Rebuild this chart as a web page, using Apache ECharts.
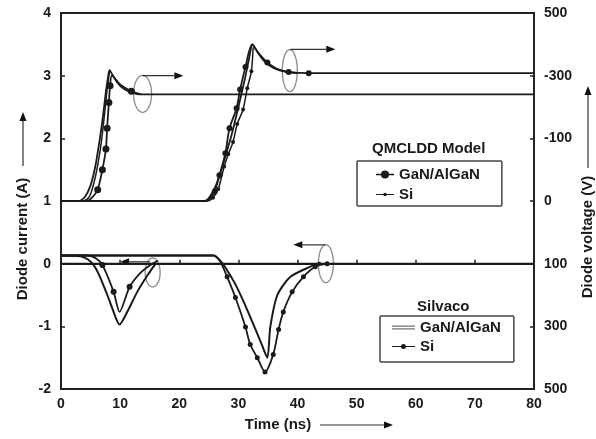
<!DOCTYPE html>
<html>
<head>
<meta charset="UTF-8">
<script src="https://cdn.jsdelivr.net/npm/echarts@6/dist/echarts.min.js"></script>
<style>
    html, body { margin: 0; padding: 0; background: #fff; }
    #main { width: 596px; height: 439px; }
</style>
</head>
<body>
<div id="main"></div>
<script type="text/javascript">
    // right axis (voltage) tick labels, from -2 to 4 on the current scale
    var voltLabels = ['500', '300', '100', '0', '-100', '-300', '500'];

    // QMCLDD model, upper pulses
    var qGanUp1T = [0, 4.4, 5.2, 6.2, 7.0, 7.6, 7.8, 8.1, 8.3, 8.6, 10.0, 11.9, 13.5];
    var qGanUp1V = [1, 1, 1.05, 1.18, 1.5, 1.83, 2.16, 2.57, 2.84, 3.0, 2.86, 2.75, 2.7];
    var qSiUp1T = [0, 3.8, 4.8, 5.6, 6.3, 6.9, 7.4, 7.8, 8.2];
    var qSiUp1V = [1, 1, 1.07, 1.3, 1.62, 2.0, 2.42, 2.78, 3.06];
    var qGanUp2T = [0, 24.4, 25.2, 26.0, 26.8, 27.8, 28.5, 29.7, 30.3, 31.2, 32.3, 33.4, 34.9, 36.5, 38.5, 41.9, 80];
    var qGanUp2V = [1, 1, 1.04, 1.15, 1.41, 1.76, 2.16, 2.48, 2.78, 3.14, 3.5, 3.36, 3.21, 3.11, 3.06, 3.04, 3.04];
    var qSiUp2T = [0, 24.8, 25.7, 26.6, 27.6, 28.3, 29.1, 29.8, 30.8, 31.5, 32.2, 32.5];
    var qSiUp2V = [1, 1, 1.05, 1.19, 1.55, 1.75, 1.94, 2.23, 2.46, 2.8, 3.07, 3.45];

    // Silvaco, upper pulses
    var sGanUp1T = [0, 3.0, 4.0, 5.0, 5.8, 6.5, 7.1, 7.6, 8.0, 8.2, 8.8, 9.6, 10.6, 12.0, 13.5, 80];
    var sGanUp1V = [1, 1, 1.06, 1.25, 1.55, 1.95, 2.35, 2.75, 3.0, 3.09, 3.0, 2.88, 2.79, 2.73, 2.7, 2.7];
    var sGanUp2T = [0, 24.3, 25.2, 26.2, 27.2, 28.0, 28.7, 29.5, 30.3, 31.1, 31.8, 32.4, 33.2, 34.5, 36.0, 38.0, 40.0];
    var sGanUp2V = [1, 1, 1.07, 1.25, 1.52, 1.78, 2.0, 2.3, 2.62, 2.95, 3.27, 3.5, 3.38, 3.22, 3.12, 3.06, 3.04];

    // Silvaco, lower (current) dips
    var sGanDn1T = [0, 3.3, 4.5, 5.5, 6.4, 7.2, 8.0, 8.7, 9.9, 11.2, 12.9, 14.6, 16.0];
    var sGanDn1V = [0.13, 0.12, 0.07, -0.02, -0.17, -0.35, -0.54, -0.72, -0.97, -0.77, -0.45, -0.19, 0.0];
    var sSiDn1T = [0, 4.5, 6.0, 7.0, 8.9, 9.9, 11.6, 13.4, 15.0, 16.4];
    var sSiDn1V = [0.13, 0.13, 0.08, -0.02, -0.45, -0.77, -0.37, -0.15, -0.03, 0.05];
    var sSiDn2T = [0, 25.8, 26.9, 28.1, 29.5, 31.2, 32.0, 33.2, 34.5, 35.9, 36.8, 37.6, 39.1, 41.0, 43.0, 45.0];
    var sSiDn2V = [0.13, 0.13, 0.04, -0.21, -0.54, -1.01, -1.29, -1.5, -1.73, -1.45, -1.05, -0.77, -0.45, -0.21, -0.05, 0.0];
    var sGanDn2T = [0, 25.8, 26.8, 27.8, 29.5, 30.9, 32.9, 34.0, 34.9, 35.4, 36.6, 38.8, 42.1, 43.9];
    var sGanDn2V = [0.13, 0.13, 0.06, -0.06, -0.33, -0.61, -1.05, -1.3, -1.5, -1.01, -0.5, -0.21, -0.05, 0.02];

    // zero reference line
    var zeroT = [0, 80];
    var zeroV = [0, 0];

    var ink = '#1a1a1a';
    var font = 'Liberation Sans, Arial, sans-serif';

    function pairs(t, v) {
        var d = [];
        for (var i = 0; i < t.length; i++) d.push([t[i], v[i]]);
        return d;
    }

    function trace(name, t, v, dots, size, width) {
        return {
            name: name,
            type: 'line',
            data: pairs(t, v),
            smooth: 0.25,
            symbol: 'circle',
            showSymbol: true,
            symbolSize: function (val, p) {
                return dots.indexOf(p.dataIndex) >= 0 ? size : 0;
            },
            itemStyle: {color: ink},
            lineStyle: {color: ink, width: width},
            emphasis: {disabled: true},
            silent: true
        };
    }

    function range(a, b) {
        var r = [];
        for (var i = a; i <= b; i++) r.push(i);
        return r;
    }

    var myChart = echarts.init(document.getElementById('main'));

    var option = {
        animation: false,
        backgroundColor: '#fff',
        textStyle: {fontFamily: font},
        grid: {left: 61, right: 62, top: 13, bottom: 50, containLabel: false, outerBoundsMode: 'none',
            show: true, borderColor: '#222', borderWidth: 2},
        title: [
            {text: 'QMCLDD Model', left: 367, top: 136,
                textStyle: {fontSize: 15, fontWeight: 'bold', color: ink, fontFamily: font}},
            {text: 'Silvaco', left: 412, top: 294,
                textStyle: {fontSize: 15, fontWeight: 'bold', color: ink, fontFamily: font}}
        ],
        legend: [
            {
                left: 357, top: 161, orient: 'vertical', selectedMode: false,
                itemWidth: 18, itemHeight: 8, itemGap: 5,
                padding: [6, 22, 4, 19],
                borderColor: '#444', borderWidth: 1.5, borderRadius: 1,
                textStyle: {fontSize: 15, fontWeight: 'bold', color: ink, fontFamily: font},
                formatter: function (n) { return n.split('|')[1]; },
                data: [
                    {name: 'Q|GaN/AlGaN', icon: 'path://M0 3.2h18v1.6H0z M5 4a4 4 0 1 1 8 0a4 4 0 1 1 -8 0z'},
                    {name: 'Q|Si', icon: 'path://M0 1.4h18v1.2H0z M7.2 2a1.8 1.8 0 1 1 3.6 0a1.8 1.8 0 1 1 -3.6 0z'}
                ]
            },
            {
                left: 380, top: 316, orient: 'vertical', selectedMode: false,
                itemWidth: 23, itemHeight: 8, itemGap: 4,
                padding: [4, 13, 8, 12],
                borderColor: '#444', borderWidth: 1.5, borderRadius: 1,
                textStyle: {fontSize: 15, fontWeight: 'bold', color: ink, fontFamily: font},
                formatter: function (n) { return n.split('|')[1]; },
                data: [
                    {name: 'S|GaN/AlGaN', icon: 'path://M0 0h23v1.3H0z M0 2.7h23v1.3H0z',
                        itemStyle: {color: '#777'}},
                    {name: 'S|Si', icon: 'path://M0 1.9h23v1.2H0z M9 2.5a2.5 2.5 0 1 1 5 0a2.5 2.5 0 1 1 -5 0z'}
                ]
            }
        ],
        xAxis: {
            type: 'value', min: 0, max: 80, interval: 10,
            axisLine: {show: true, lineStyle: {color: '#222', width: 2}},
            axisTick: {show: true, inside: true, length: 4, lineStyle: {color: '#222', width: 1.5}},
            axisLabel: {margin: 8, fontSize: 14, fontWeight: 'bold', color: ink, fontFamily: font},
            splitLine: {show: false}
        },
        yAxis: [
            {
                type: 'value', min: -2, max: 4, interval: 1,
                axisLine: {show: true, lineStyle: {color: '#222', width: 2}},
                axisTick: {show: true, inside: true, length: 4, lineStyle: {color: '#222', width: 1.5}},
                axisLabel: {margin: 10, fontSize: 14, fontWeight: 'bold', color: ink, fontFamily: font},
                splitLine: {show: false}
            },
            {
                type: 'value', min: -2, max: 4, interval: 1, position: 'right',
                axisLine: {show: true, lineStyle: {color: '#222', width: 2}},
                axisTick: {show: true, inside: true, length: 4, lineStyle: {color: '#222', width: 1.5}},
                axisLabel: {
                    margin: 10, fontSize: 14, fontWeight: 'bold', color: ink, fontFamily: font,
                    formatter: function (v) { return voltLabels[Math.round(v) + 2]; }
                },
                splitLine: {show: false}
            }
        ],
        series: [
            trace('ref', zeroT, zeroV, [], 0, 1.8),
            trace('S|GaN/AlGaN', sGanUp1T, sGanUp1V, [], 0, 1.8),
            trace('Q|Si', qSiUp1T, qSiUp1V, [], 4, 1.5),
            trace('Q|GaN/AlGaN', qGanUp1T, qGanUp1V, [3, 4, 5, 6, 7, 8, 11], 7, 1.8),
            trace('S|GaN/AlGaN', sGanUp2T, sGanUp2V, [], 0, 1.8),
            trace('Q|GaN/AlGaN', qGanUp2T, qGanUp2V, [3, 4, 5, 6, 7, 8, 9, 12, 14, 15], 6, 1.8),
            trace('Q|Si', qSiUp2T, qSiUp2V, range(2, 10), 4, 1.5),
            trace('S|GaN/AlGaN', sGanDn1T, sGanDn1V, [], 0, 2),
            trace('S|Si', sSiDn1T, sSiDn1V, [3, 4, 6], 6, 1.8),
            trace('S|Si', sSiDn2T, sSiDn2V, range(3, 15), 5, 1.8),
            trace('S|GaN/AlGaN', sGanDn2T, sGanDn2V, [], 0, 2)
        ]
    };
    myChart.setOption(option);

    // loops and arrows pointing at the axis each trace belongs to
    function px(x, y) {
        return myChart.convertToPixel({xAxisIndex: 0, yAxisIndex: 0}, [x, y]);
    }

    function ellipse(c, rx, ry) {
        var p = [];
        for (var i = 0; i < 48; i++) {
            var a = i / 48 * Math.PI * 2;
            p.push([c[0] + rx * Math.cos(a), c[1] + ry * Math.sin(a)]);
        }
        return {type: 'polygon', shape: {points: p}, style: {fill: 'none', stroke: '#8a8a8a', lineWidth: 1.3}, silent: true};
    }

    function arrow(a, b) {
        var dx = b[0] - a[0], dy = b[1] - a[1];
        var len = Math.sqrt(dx * dx + dy * dy);
        var ux = dx / len, uy = dy / len;
        var hl = 9, hw = 3.5;
        var base = [b[0] - ux * hl, b[1] - uy * hl];
        return [
            {type: 'line', shape: {x1: a[0], y1: a[1], x2: base[0], y2: base[1]},
                style: {stroke: '#333', lineWidth: 1.2}, silent: true},
            {type: 'polygon', shape: {points: [b, [base[0] - uy * hw, base[1] + ux * hw], [base[0] + uy * hw, base[1] - ux * hw]]},
                style: {fill: '#111'}, silent: true}
        ];
    }

    var g = [];
    g.push(ellipse(px(13.8, 2.71), 9, 18.5));
    g = g.concat(arrow(px(13.8, 3.0), px(20.7, 3.0)));
    g.push(ellipse(px(38.7, 3.08), 7.5, 21));
    g = g.concat(arrow(px(38.8, 3.42), px(46.4, 3.42)));
    g.push(ellipse(px(15.5, -0.14), 7.5, 14.5));
    g = g.concat(arrow(px(15.1, 0.03), px(10.0, 0.03)));
    g.push(ellipse(px(44.8, 0.0), 7.5, 19));
    g = g.concat(arrow(px(44.7, 0.3), px(39.3, 0.3)));

    // axis names with their arrows
    var nameStyle = {fontSize: 15, fontWeight: 'bold', fill: ink, fontFamily: font, align: 'center', verticalAlign: 'middle'};
    g.push({type: 'text', x: 23, y: 239, rotation: Math.PI / 2, style: Object.assign({text: 'Diode current (A)'}, nameStyle), silent: true});
    g = g.concat(arrow([23, 166], [23, 112]));
    g.push({type: 'text', x: 588, y: 237, rotation: Math.PI / 2, style: Object.assign({text: 'Diode voltage (V)'}, nameStyle), silent: true});
    g = g.concat(arrow([588, 168], [588, 86]));
    g.push({type: 'text', x: 278, y: 425, style: Object.assign({text: 'Time (ns)'}, nameStyle), silent: true});
    g = g.concat(arrow([320, 425], [393, 425]));

    myChart.setOption({graphic: g});
</script>
</body>
</html>
